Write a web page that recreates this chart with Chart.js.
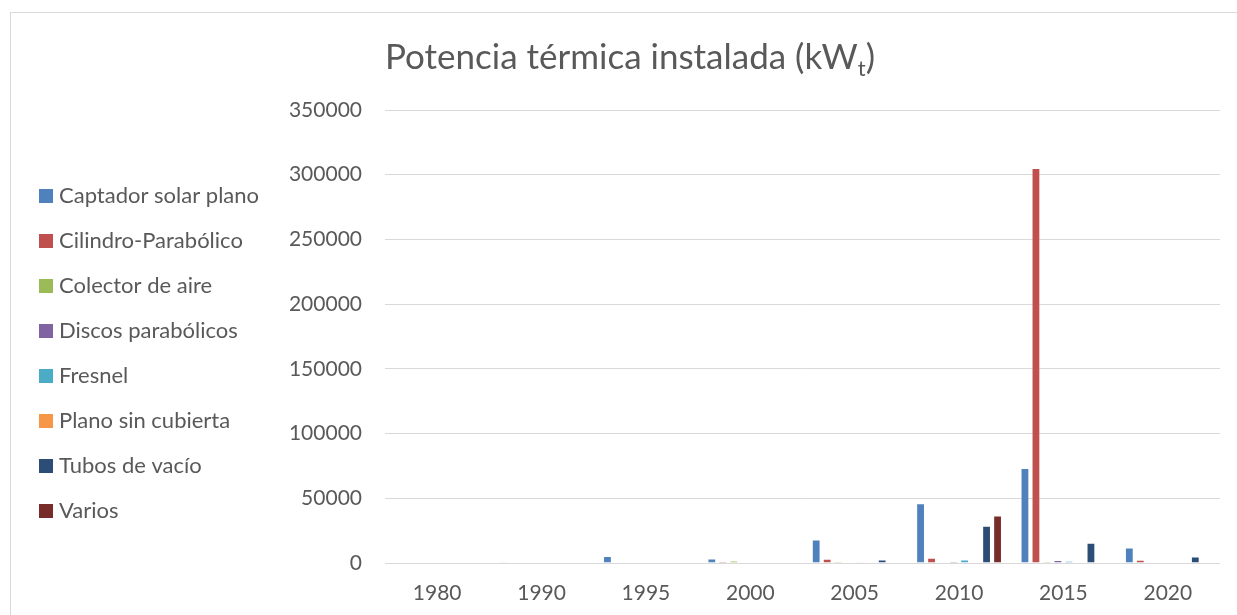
<!DOCTYPE html>
<html>
<head>
<meta charset="utf-8">
<script src="https://cdn.jsdelivr.net/npm/chart.js@4.4.1/dist/chart.umd.min.js"></script>
<style>
  html, body { margin: 0; padding: 0; background: #ffffff; }
  canvas { display: block; }
</style>
</head>
<body>
<canvas id="chart" width="1237" height="615"></canvas>
<script>
// Installed solar thermal power per technology (kWt), grouped by year
const years = ['1980', '1990', '1995', '2000', '2005', '2010', '2015', '2020'];

const captadorSolarPlano = [0, 600, 5400, 3400, 18200, 46100, 73400, 12000];
const cilindroParabolico = [0, 0, 0, 1100, 3200, 4100, 305100, 2600];
const colectorDeAire     = [200, 200, 0, 1800, 1000, 200, 1200, 0];
const discosParabolicos  = [0, 0, 0, 0, 300, 1100, 2400, 0];
const fresnel            = [0, 0, 0, 0, 150, 2800, 1600, 0];
const planoSinCubierta   = [0, 0, 0, 0, 0, 0, 0, 0];
const tubosDeVacio       = [0, 0, 0, 0, 2700, 28800, 15600, 5100];
const varios             = [0, 0, 0, 0, 0, 36700, 400, 0];

const yTicks = [0, 50000, 100000, 150000, 200000, 250000, 300000, 350000];

const seriesNames = ['Captador solar plano', 'Cilindro-Parabólico', 'Colector de aire',
  'Discos parabólicos', 'Fresnel', 'Plano sin cubierta', 'Tubos de vacío', 'Varios'];
const seriesColors = ['#4F81BD', '#C0504D', '#9BBB59', '#8064A2', '#4BACC6', '#F79646', '#2C4D75', '#772C2A'];
const seriesValues = [captadorSolarPlano, cilindroParabolico, colectorDeAire, discosParabolicos,
  fresnel, planoSinCubierta, tubosDeVacio, varios];

const FONT = 'Lato, "Open Sans", sans-serif';
const TEXT = '#595959';

// Outer frame of the chart object (only its left and top edges fall on the canvas)
const framePlugin = {
  id: 'frame',
  beforeDraw(chart) {
    const ctx = chart.ctx;
    ctx.save();
    ctx.strokeStyle = '#d9d9d9';
    ctx.lineWidth = 1;
    ctx.strokeRect(10.5, 12.5, chart.width + 50, chart.height + 50);
    ctx.restore();
  }
};

// Title with subscript "t" in kWt
const titlePlugin = {
  id: 'subTitle',
  afterDraw(chart) {
    const ctx = chart.ctx;
    const main = 'Potencia térmica instalada (kW';
    const sub = 't';
    const close = ')';
    const big = '35px ' + FONT;
    const small = '22px ' + FONT;
    ctx.save();
    ctx.fillStyle = TEXT;
    ctx.textBaseline = 'alphabetic';
    ctx.font = big;
    const wMain = ctx.measureText(main).width;
    const wClose = ctx.measureText(close).width;
    ctx.font = small;
    const wSub = ctx.measureText(sub).width;
    const total = wMain + wSub + wClose;
    let x = 630 - total / 2;
    const base = 69;
    ctx.font = big;
    ctx.fillText(main, x, base);
    x += wMain;
    ctx.font = small;
    ctx.fillText(sub, x, base + 7);
    x += wSub;
    ctx.font = big;
    ctx.fillText(close, x, base);
    ctx.restore();
  }
};

// Legend column at the left
const legendPlugin = {
  id: 'sideLegend',
  afterDraw(chart) {
    const ctx = chart.ctx;
    ctx.save();
    ctx.font = '22px ' + FONT;
    ctx.textBaseline = 'middle';
    chart.data.datasets.forEach((ds, i) => {
      const cy = 196 + 45 * i;
      ctx.fillStyle = ds.backgroundColor;
      ctx.fillRect(39, cy - 7, 14, 14);
      ctx.fillStyle = TEXT;
      ctx.fillText(ds.label, 59, cy);
    });
    ctx.restore();
  }
};

new Chart(document.getElementById('chart'), {
  type: 'bar',
  data: {
    labels: years,
    datasets: seriesNames.map((name, i) => ({
      label: name,
      data: seriesValues[i],
      backgroundColor: seriesColors[i],
      borderColor: 'rgba(255,255,255,0.3)',
      borderWidth: 1,
      categoryPercentage: 0.843,
      barPercentage: 0.8
    }))
  },
  options: {
    responsive: false,
    devicePixelRatio: 1,
    animation: false,
    layout: { padding: { top: 110, right: 17, left: 0, bottom: 0 } },
    plugins: {
      legend: { display: false },
      title: { display: false },
      tooltip: { enabled: false }
    },
    scales: {
      x: {
        grid: { display: false },
        border: { display: false },
        ticks: { color: TEXT, font: { family: FONT, size: 21 }, padding: 10, maxRotation: 0 },
        afterFit(scale) { scale.height = 52; }
      },
      y: {
        min: 0,
        max: 350000,
        afterBuildTicks(scale) { scale.ticks = yTicks.map(v => ({ value: v })); },
        grid: { color: '#d9d9d9', lineWidth: 1, drawTicks: false },
        border: { display: false },
        ticks: {
          color: TEXT,
          font: { family: FONT, size: 21 },
          padding: 23,
          callback: (v) => String(v)
        },
        afterFit(scale) { scale.width = 385; }
      }
    }
  },
  plugins: [framePlugin, titlePlugin, legendPlugin]
});
</script>
</body>
</html>
